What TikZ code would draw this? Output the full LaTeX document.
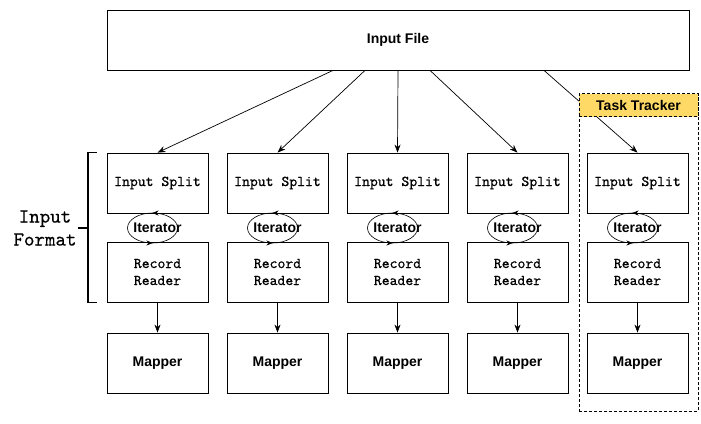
\documentclass[tikz,border=0pt]{standalone}
\usepackage{fontspec}
\setmainfont{Liberation Sans}
\newfontfamily\courfont{lmmono10-regular.otf}[FakeBold=0.6]
\usepackage{xcolor}
\usetikzlibrary{shapes.geometric, arrows.meta, positioning, decorations.markings}
\definecolor{trackeryellow}{RGB}{255,217,102}

\begin{document}
\begin{tikzpicture}[
    x=1pt, y=-1pt,
    block/.style={rectangle, draw, minimum width=101pt, minimum height=60pt, align=center, inner sep=2pt, line width=0.8pt},
    source/.style={block, minimum width=582pt, font=\fontsize{14}{16}\selectfont\bfseries},
    split/.style={block, font=\fontsize{15}{17}\selectfont\courfont},
    mapper/.style={block, font=\fontsize{14}{16}\selectfont\bfseries},
    iter/.style={ellipse, draw, minimum width=50pt, minimum height=30pt, inner sep=0pt, line width=0.6pt,
        label={[font=\fontsize{14}{16}\selectfont\bfseries, xshift=5pt]center:Iterator},
        postaction={decorate}, decoration={markings,
            mark=at position 0.25 with {\arrow{Stealth[length=6pt, width=5pt]}},
            mark=at position 0.75 with {\arrow{Stealth[length=6pt, width=5pt]}}}},
    tracker/.style={rectangle, draw, dashed, dash pattern=on 3pt off 2pt, line width=0.7pt},
    arrow/.style={-{Stealth[length=8pt, width=6pt]}, line width=0.7pt},
]
\useasboundingbox (0,0) rectangle (701,423);

\node[source] (file) at (398, 40) {Input File};

% Task Tracker frame behind the last column
\node[tracker, minimum width=119pt, minimum height=317pt] (tt) at (638.5, 252.5) {};

\node[split] (split1) at (157.5, 183) {Input Split};
\node[split] (split2) at (277.5, 183) {Input Split};
\node[split] (split3) at (397.5, 183) {Input Split};
\node[split] (split4) at (517.5, 183) {Input Split};
\node[split] (split5) at (637.5, 183) {Input Split};

\node[iter] (iter1) at (152.5, 228) {};
\node[iter] (iter2) at (272.5, 228) {};
\node[iter] (iter3) at (392.5, 228) {};
\node[iter] (iter4) at (512.5, 228) {};
\node[iter] (iter5) at (632.5, 228) {};

\node[split] (reader1) at (157.5, 272) {Record\\Reader};
\node[split] (reader2) at (277.5, 272) {Record\\Reader};
\node[split] (reader3) at (397.5, 272) {Record\\Reader};
\node[split] (reader4) at (517.5, 272) {Record\\Reader};
\node[split] (reader5) at (637.5, 272) {Record\\Reader};

\node[mapper] (map1) at (157.5, 363) {Mapper};
\node[mapper] (map2) at (277.5, 363) {Mapper};
\node[mapper] (map3) at (397.5, 363) {Mapper};
\node[mapper] (map4) at (517.5, 363) {Mapper};
\node[mapper] (map5) at (637.5, 363) {Mapper};

\draw[arrow] ([xshift=-65pt]file.south) -- (split1.north);
\draw[arrow] ([xshift=-33pt]file.south) -- (split2.north);
\draw[arrow] (file.south) -- (split3.north);
\draw[arrow] ([xshift=32pt]file.south) -- (split4.north);
\draw[arrow] ([xshift=146pt]file.south) -- (split5.north);

\draw[arrow] (reader1) -- (map1);
\draw[arrow] (reader2) -- (map2);
\draw[arrow] (reader3) -- (map3);
\draw[arrow] (reader4) -- (map4);
\draw[arrow] (reader5) -- (map5);

\node[tracker, fill=trackeryellow, minimum width=119pt, minimum height=23pt, font=\fontsize{14}{16}\selectfont\bfseries] (ttlabel) at (638.5, 105) {Task Tracker};

% bracket for the input format
\node[font=\fontsize{20}{23}\selectfont\courfont, align=center, inner sep=1pt] (fmt) at (45, 228) {Input\\Format};
\coordinate (brmid) at (88, 228);
\draw[line width=1.5pt] ([xshift=-10pt]split1.north west) -| (brmid) |- ([xshift=-10pt]reader1.south west);
\draw[line width=1.5pt] (fmt.east) -- (brmid);

\end{tikzpicture}
\end{document}
